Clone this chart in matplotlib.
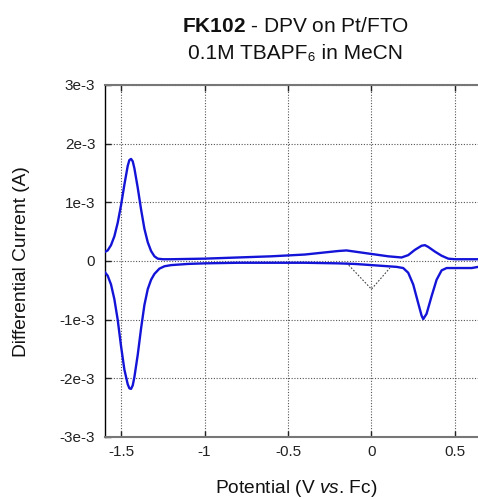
import matplotlib
matplotlib.use("Agg")
import matplotlib.pyplot as plt

plt.rcParams['font.family'] = ['Liberation Sans', 'DejaVu Sans']
plt.rcParams['mathtext.fontset'] = 'custom'
plt.rcParams['mathtext.rm'] = 'Liberation Sans'
plt.rcParams['mathtext.bf'] = 'Liberation Sans:bold'
plt.rcParams['mathtext.it'] = 'Liberation Sans:italic'

# Forward (upper) trace, current in units of 1e-3 A
v_up = [-1.60, -1.58, -1.56, -1.54, -1.52, -1.50, -1.48, -1.46, -1.45, -1.44, -1.43, -1.42,
        -1.40, -1.38, -1.36, -1.34, -1.32, -1.30, -1.28, -1.25, -1.2, -1.0, -0.8, -0.6, -0.4,
        -0.3, -0.2, -0.15, -0.1, 0.0, 0.1, 0.18, 0.22, 0.26, 0.30, 0.32, 0.34, 0.38, 0.42,
        0.46, 0.50, 0.55, 0.64]
i_up = [0.15, 0.18, 0.27, 0.42, 0.65, 0.95, 1.30, 1.62, 1.72, 1.74, 1.70, 1.58,
        1.25, 0.88, 0.55, 0.32, 0.17, 0.08, 0.04, 0.03, 0.03, 0.04, 0.06, 0.08, 0.11,
        0.14, 0.17, 0.18, 0.16, 0.12, 0.08, 0.06, 0.10, 0.19, 0.26, 0.27, 0.24, 0.16, 0.09,
        0.04, 0.03, 0.03, 0.03]

# Reverse (lower) trace
v_dn = [-1.60, -1.58, -1.56, -1.54, -1.52, -1.50, -1.48, -1.46, -1.45, -1.44, -1.43, -1.42,
        -1.40, -1.38, -1.36, -1.34, -1.32, -1.30, -1.27, -1.24, -1.2, -1.1, -1.0, -0.8, -0.6,
        -0.4, -0.2, -0.1, 0.0, 0.1, 0.15, 0.19, 0.22, 0.25, 0.28, 0.30, 0.31, 0.33, 0.36,
        0.39, 0.42, 0.45, 0.50, 0.55, 0.60, 0.64]
i_dn = [-0.18, -0.25, -0.40, -0.65, -1.00, -1.45, -1.85, -2.10, -2.17, -2.18, -2.12, -1.98,
        -1.60, -1.15, -0.75, -0.48, -0.32, -0.22, -0.13, -0.09, -0.07, -0.05, -0.04, -0.03, -0.03,
        -0.03, -0.04, -0.05, -0.07, -0.09, -0.10, -0.12, -0.20, -0.40, -0.72, -0.93, -0.99, -0.90, -0.60,
        -0.32, -0.16, -0.12, -0.12, -0.12, -0.12, -0.10]

# Dotted guide
v_dot = [-0.15, 0.0, 0.11]
i_dot = [-0.03, -0.48, -0.12]

x_ticks = [-1.5, -1, -0.5, 0, 0.5]
x_labels = ['-1.5', '-1', '-0.5', '0', '0.5']
y_ticks = [-3e-3, -2e-3, -1e-3, 0, 1e-3, 2e-3, 3e-3]
y_labels = ['-3e-3', '-2e-3', '-1e-3', '0', '1e-3', '2e-3', '3e-3']

fig = plt.figure(figsize=(4.78, 4.99), dpi=100)
ax = fig.add_axes([105/478, 1 - 437/499, 1 - 105/478, (437 - 85)/499])

blue = '#1414d8'
ax.plot(v_up, [v * 1e-3 for v in i_up], color=blue, lw=1.7, zorder=3)
ax.plot(v_dn, [v * 1e-3 for v in i_dn], color=blue, lw=1.7, zorder=3)
ax.plot(v_dot, [v * 1e-3 for v in i_dot], color='#444444', lw=0.8, ls=(0, (1.5, 1.5)), zorder=2)

ax.set_xlim(-1.596, 0.638)
ax.set_ylim(-3e-3, 3e-3)
ax.set_xticks(x_ticks)
ax.set_xticklabels(x_labels)
ax.set_yticks(y_ticks)
ax.set_yticklabels(y_labels)
ax.grid(True, color='#555555', ls=(0, (1, 1.5)), lw=0.8)
ax.tick_params(direction='in', length=4, width=1, labelsize=11, colors='#222222',
               top=True, right=False)
ax.tick_params(axis='y', pad=7)
ax.tick_params(axis='x', pad=6)

for s in ['top', 'bottom']:
    ax.spines[s].set_color('#777777')
    ax.spines[s].set_linewidth(1.5)
ax.spines['left'].set_color('black')
ax.spines['left'].set_linewidth(1.0)
ax.spines['right'].set_visible(False)

fig.text(22/478, 1 - 262/499, 'Differential Current (A)', rotation=90, ha='center', va='center',
         fontsize=13.8, color='#111111')
fig.text(296/478, 1 - 493/499, r'Potential (V $\it{vs}$. Fc)', ha='center', va='baseline',
         fontsize=13.8, color='#111111')
fig.text(296/478, 1 - 32/499, r'$\bf{FK102}$ - DPV on Pt/FTO', ha='center', va='baseline',
         fontsize=15, color='#111111')
fig.text(295/478, 1 - 59/499, '0.1M TBAPF\u2086 in MeCN', ha='center', va='baseline',
         fontsize=15, color='#111111')

fig.savefig('out.png', dpi=100)
